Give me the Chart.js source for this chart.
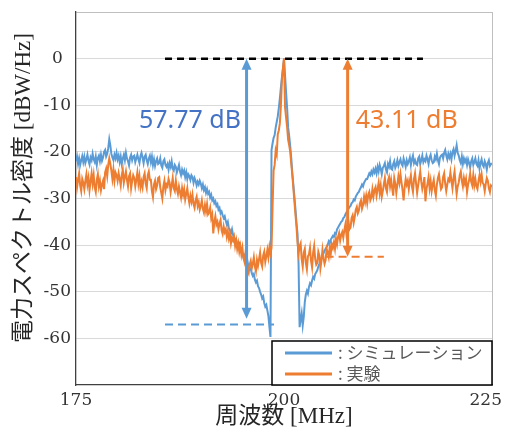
<!DOCTYPE html>
<html>
<head>
<meta charset="utf-8">
<script src="https://cdn.jsdelivr.net/npm/chart.js@4"></script>
<style>
  html, body { margin: 0; padding: 0; background: #fff; }
</style>
</head>
<body>
<canvas id="spectrum" width="505" height="430"></canvas>
<script>
// Sampling grid of the spectrum (MHz)
const freqStart = 175;
const freqStep = 0.125;

// Simulation PSD [dBW/Hz], 8 values per MHz, 175 .. 225 MHz
const simValues = [
  -22.0, -21.0, -22.6, -21.4, -22.8, -21.8, -20.9, -22.2,
  -21.0, -22.4, -21.6, -20.6, -21.9, -22.7, -21.2, -21.8,
  -20.4, -21.6, -22.2, -21.0, -22.8, -21.3, -20.8, -22.0,
  -20.6, -21.9, -21.2, -20.0, -19.6, -21.0, -20.4, -19.2,
  -17.3, -18.6, -20.4, -21.2, -21.8, -20.6, -21.4, -20.2,
  -21.6, -20.8, -22.2, -21.0, -22.6, -21.4, -20.6, -21.8,
  -20.2, -21.4, -22.0, -22.9, -21.2, -20.6, -21.8, -21.0,
  -20.8, -22.2, -21.4, -20.6, -21.6, -22.4, -20.9, -20.2,
  -21.2, -22.4, -21.0, -20.6, -21.8, -22.6, -21.4, -20.8,
  -22.2, -21.0, -22.8, -21.6, -23.0, -22.0, -21.4, -22.6,
  -22.4, -21.4, -22.9, -23.4, -22.0, -21.6, -22.8, -23.2,
  -22.6, -23.8, -22.4, -23.2, -22.0, -23.6, -24.0, -22.8,
  -23.2, -24.4, -23.6, -22.8, -24.2, -25.0, -23.8, -24.6,
  -24.0, -25.4, -24.4, -25.8, -24.8, -25.2, -26.0, -25.0,
  -25.4, -26.6, -25.6, -26.2, -27.2, -26.4, -27.0, -26.2,
  -26.8, -27.8, -27.0, -28.2, -27.6, -28.8, -28.0, -29.0,
  -28.6, -29.8, -29.2, -30.4, -30.0, -31.0, -30.6, -31.6,
  -31.2, -32.4, -32.0, -33.2, -32.8, -33.6, -34.2, -33.8,
  -34.8, -35.6, -35.0, -36.4, -36.8, -37.4, -36.6, -37.8,
  -38.4, -39.2, -38.8, -40.0, -40.4, -39.8, -41.0, -41.4,
  -41.8, -42.6, -42.2, -43.4, -44.0, -43.6, -44.8, -45.2,
  -45.0, -46.0, -46.6, -46.2, -47.4, -48.0, -47.6, -48.8,
  -49.2, -50.0, -50.6, -51.4, -51.0, -52.4, -53.2, -52.8,
  -54.0, -55.2, -57.6, -59.7, -19.6, -18.2, -17.0, -16.4,
  -14.8, -13.6, -12.4, -10.6, -8.6, -6.2, -4.0, -2.2,
  0.0, -3.6, -7.2, -10.6, -14.8, -16.6, -18.8, -21.4,
  -24.6, -27.0, -29.6, -32.2, -35.2, -37.6, -44.0, -57.6,
  -56.0, -54.6, -57.2, -55.4, -52.2, -50.6, -49.8, -50.4,
  -49.0, -48.2, -48.6, -47.6, -46.8, -47.2, -46.2, -45.8,
  -45.4, -44.6, -44.0, -43.2, -42.8, -42.0, -41.8, -41.2,
  -40.8, -40.4, -40.0, -39.2, -39.6, -38.8, -38.4, -38.0,
  -38.2, -37.4, -37.6, -36.6, -36.2, -35.8, -35.4, -35.0,
  -34.8, -34.2, -34.0, -33.4, -33.0, -32.6, -32.2, -31.8,
  -31.6, -31.0, -30.8, -30.2, -30.4, -29.6, -29.2, -28.8,
  -28.6, -28.0, -27.6, -27.0, -27.4, -26.6, -26.2, -25.8,
  -25.8, -25.2, -24.6, -25.0, -24.2, -24.8, -23.8, -24.4,
  -23.6, -24.6, -23.2, -24.2, -22.8, -23.6, -24.8, -23.4,
  -23.0, -22.4, -23.8, -24.4, -22.6, -23.2, -22.0, -23.6,
  -23.8, -22.6, -22.0, -23.4, -22.8, -21.8, -23.0, -22.2,
  -21.6, -22.6, -23.0, -21.4, -22.2, -23.2, -21.8, -22.6,
  -22.0, -21.2, -22.8, -21.6, -20.8, -22.4, -21.8, -22.6,
  -22.8, -21.4, -21.0, -22.6, -21.8, -20.8, -22.2, -21.6,
  -22.0, -20.8, -21.6, -22.6, -21.2, -20.6, -21.8, -22.4,
  -22.2, -21.0, -21.6, -20.4, -21.8, -22.6, -21.2, -20.8,
  -20.6, -21.4, -20.2, -19.6, -20.8, -21.6, -20.4, -21.2,
  -20.4, -21.6, -20.0, -19.4, -20.8, -19.8, -18.6, -20.2,
  -20.8, -21.8, -22.4, -21.0, -22.6, -21.4, -22.2, -21.6,
  -22.8, -21.6, -22.4, -23.4, -22.0, -21.4, -22.8, -22.2,
  -21.4, -22.6, -23.0, -21.8, -23.6, -22.4, -21.6, -22.8,
  -23.2, -22.0, -22.6, -23.8, -22.4, -21.8, -23.0, -22.6,
  -22.5
];

// Measured PSD [dBW/Hz], same grid
const expValues = [
  -25.4, -27.6, -26.0, -24.6, -27.2, -28.4, -25.8, -26.6,
  -28.0, -26.2, -24.8, -27.0, -25.6, -28.2, -26.4, -24.6,
  -26.8, -25.0, -27.6, -28.6, -26.0, -24.8, -27.4, -26.2,
  -28.2, -27.0, -26.2, -28.0, -24.4, -23.6, -25.2, -22.8,
  -21.4, -22.6, -24.0, -25.8, -23.8, -26.2, -24.4, -25.0,
  -26.2, -24.6, -25.8, -27.2, -25.0, -23.8, -26.6, -25.4,
  -24.2, -26.0, -27.4, -25.2, -24.6, -27.8, -26.2, -25.0,
  -25.6, -27.4, -26.0, -24.4, -26.8, -25.2, -27.6, -26.4,
  -27.6, -25.4, -24.6, -26.8, -27.8, -25.0, -24.2, -26.0,
  -26.0, -28.4, -29.7, -27.0, -26.2, -28.0, -27.2, -25.6,
  -25.4, -27.6, -28.8, -30.0, -27.4, -26.2, -28.2, -27.0,
  -27.4, -25.8, -26.6, -28.6, -27.2, -25.6, -27.8, -28.4,
  -26.2, -28.0, -29.0, -27.4, -28.6, -29.8, -27.8, -29.2,
  -28.0, -30.2, -29.0, -27.8, -29.7, -31.0, -29.4, -30.6,
  -29.2, -31.2, -32.0, -30.4, -29.6, -31.6, -30.8, -32.4,
  -31.6, -30.4, -32.2, -33.0, -31.4, -32.8, -31.2, -33.4,
  -33.0, -32.0, -34.2, -33.4, -37.5, -35.0, -33.8, -35.6,
  -35.0, -36.6, -35.4, -34.6, -36.8, -37.6, -36.0, -37.2,
  -36.6, -38.2, -37.0, -38.6, -37.6, -39.6, -38.4, -39.0,
  -38.2, -40.2, -39.0, -40.8, -39.6, -41.4, -40.2, -42.0,
  -40.6, -42.8, -43.6, -41.6, -43.0, -45.4, -46.0, -44.2,
  -43.4, -45.0, -44.0, -42.6, -44.6, -45.6, -43.2, -44.4,
  -43.0, -41.6, -43.8, -44.6, -42.2, -41.4, -43.6, -42.4,
  -41.0, -42.6, -40.4, -41.8, -40.6, -32.0, -24.0, -22.8,
  -19.7, -20.6, -16.2, -15.4, -13.9, -10.2, -4.6, -2.0,
  0.0, -10.4, -12.6, -14.7, -17.4, -18.6, -20.0, -22.6,
  -25.0, -27.8, -30.6, -33.4, -36.0, -39.4, -41.8, -40.2,
  -39.6, -43.0, -44.6, -41.6, -40.8, -43.8, -45.2, -42.4,
  -42.0, -40.6, -43.4, -44.8, -41.6, -40.2, -43.0, -44.2,
  -43.8, -41.4, -42.2, -45.0, -43.4, -41.0, -42.8, -44.0,
  -43.2, -40.8, -41.6, -42.6, -40.4, -41.8, -39.8, -40.6,
  -39.4, -40.8, -38.6, -39.8, -38.2, -37.4, -39.0, -37.8,
  -37.2, -38.4, -36.8, -35.6, -37.6, -36.2, -35.0, -36.6,
  -36.2, -34.2, -33.6, -35.2, -34.0, -32.4, -31.8, -33.2,
  -32.6, -31.0, -30.4, -32.2, -31.4, -29.6, -30.8, -29.4,
  -31.0, -29.2, -28.6, -30.4, -29.8, -28.0, -29.6, -28.2,
  -27.6, -29.4, -28.0, -26.6, -28.8, -27.2, -29.6, -28.4,
  -27.0, -25.6, -27.8, -28.6, -26.2, -25.4, -27.4, -26.0,
  -27.8, -29.4, -25.6, -26.8, -28.8, -27.0, -25.2, -26.6,
  -24.8, -26.6, -28.2, -30.4, -27.6, -25.8, -27.0, -26.2,
  -28.0, -26.2, -25.0, -27.4, -28.6, -25.8, -24.6, -26.8,
  -28.8, -27.2, -25.6, -24.2, -26.4, -28.0, -27.0, -25.4,
  -30.6, -28.0, -26.8, -25.4, -27.8, -26.2, -28.4, -27.0,
  -26.0, -28.2, -29.4, -27.0, -25.6, -24.8, -26.6, -28.0,
  -27.6, -25.4, -24.6, -26.8, -28.4, -27.0, -25.8, -26.2,
  -24.4, -26.2, -27.8, -25.6, -24.2, -26.8, -29.0, -27.4,
  -26.6, -25.0, -24.2, -26.2, -27.4, -25.6, -26.8, -25.8,
  -28.6, -27.0, -26.0, -24.6, -26.4, -27.2, -25.0, -27.2,
  -25.8, -27.4, -28.0, -26.2, -25.0, -26.4, -24.8, -26.6,
  -27.0, -28.4, -26.8, -25.6, -26.2, -27.8, -28.6, -27.2,
  -27.5
];

// Reference levels and dynamic-range markers
const peakLevel = 0;
const peakSpan = [185.7, 216.7];
const simFloor = -57;
const simFloorSpan = [185.7, 198.8];
const expFloor = -42.5;
const expFloorSpan = [205.0, 212.0];
const rangeArrows = [
  { freq: 195.5, from: 0, to: -55.8, color: '#5B9BD5' },
  { freq: 207.65, from: 0, to: -42.5, color: '#ED7D31' }
];
const rangeLabels = [
  { text: '57.77 dB', freq: 188.7, db: -14.9, color: '#4472C4' },
  { text: '43.11 dB', freq: 214.75, db: -14.9, color: '#ED7D31' }
];

const xTitle = '周波数 [MHz]';
const yTitle = '電力スペクトル密度 [dBW/Hz]';

const toPoints = vals => vals.map((v, i) => ({ x: freqStart + i * freqStep, y: v }));
const hLine = (span, level) => span.map(f => ({ x: f, y: level }));

const tickFont = { family: "'DejaVu Serif'", size: 17 };
const titleFont = "23px 'Liberation Serif', 'Noto Sans CJK JP'";

// arrows, dB labels and the boxed legend
const markupPlugin = {
  id: 'markup',
  afterDatasetsDraw(chart) {
    const { ctx, chartArea, scales: { x, y } } = chart;

    rangeArrows.forEach(a => {
      const px = x.getPixelForValue(a.freq);
      const top = y.getPixelForValue(a.from);
      const bottom = y.getPixelForValue(a.to);
      ctx.save();
      ctx.strokeStyle = a.color;
      ctx.fillStyle = a.color;
      ctx.lineWidth = 3;
      ctx.beginPath();
      ctx.moveTo(px, top + 8);
      ctx.lineTo(px, bottom - 8);
      ctx.stroke();
      ctx.beginPath();
      ctx.moveTo(px, top);
      ctx.lineTo(px - 5, top + 11);
      ctx.lineTo(px + 5, top + 11);
      ctx.closePath();
      ctx.fill();
      ctx.beginPath();
      ctx.moveTo(px, bottom);
      ctx.lineTo(px - 5, bottom - 11);
      ctx.lineTo(px + 5, bottom - 11);
      ctx.closePath();
      ctx.fill();
      ctx.restore();
    });

    ctx.save();
    ctx.font = "25px 'Noto Sans'";
    ctx.textAlign = 'center';
    ctx.textBaseline = 'alphabetic';
    rangeLabels.forEach(l => {
      ctx.fillStyle = l.color;
      ctx.fillText(l.text, x.getPixelForValue(l.freq), y.getPixelForValue(l.db));
    });
    ctx.restore();

    // legend box in the lower right corner of the plot
    const entries = chart.data.datasets.filter(ds => ds.label);
    const boxW = 220, boxH = 44;
    const bx = chartArea.right - boxW;
    const by = chartArea.bottom - boxH;
    ctx.save();
    ctx.fillStyle = '#fff';
    ctx.fillRect(bx, by, boxW, boxH);
    ctx.strokeStyle = '#000';
    ctx.lineWidth = 1.5;
    ctx.strokeRect(bx, by, boxW, boxH);
    ctx.font = "17px 'Noto Sans CJK JP'";
    ctx.textBaseline = 'middle';
    ctx.textAlign = 'left';
    entries.forEach((ds, i) => {
      const ly = by + 12 + i * 21;
      ctx.strokeStyle = ds.borderColor;
      ctx.lineWidth = 3;
      ctx.beginPath();
      ctx.moveTo(bx + 13, ly);
      ctx.lineTo(bx + 60, ly);
      ctx.stroke();
      ctx.fillStyle = '#595959';
      ctx.fillText(': ' + ds.label, bx + 66, ly);
    });
    ctx.restore();
  },
  afterDraw(chart) {
    const { ctx, chartArea, scales: { x } } = chart;
    ctx.save();
    // x tick labels, kept inside the canvas at the right end
    ctx.font = tickFont.size + 'px ' + tickFont.family;
    ctx.fillStyle = '#333';
    ctx.textAlign = 'center';
    ctx.textBaseline = 'alphabetic';
    x.ticks.forEach(t => {
      const label = String(t.value);
      const w = ctx.measureText(label).width;
      const px = Math.min(x.getPixelForValue(t.value), chart.width - 3 - w / 2);
      ctx.fillText(label, px, chartArea.bottom + 20);
    });

    ctx.font = titleFont;
    ctx.fillStyle = '#262626';
    ctx.textBaseline = 'middle';
    ctx.fillText(xTitle, (chartArea.left + chartArea.right) / 2, 417);
    ctx.translate(24, 188);
    ctx.rotate(-Math.PI / 2);
    ctx.fillText(yTitle, 0, 0);
    ctx.restore();
  }
};

new Chart(document.getElementById('spectrum'), {
  type: 'line',
  data: {
    datasets: [
      { label: 'シミュレーション', data: toPoints(simValues), borderColor: '#5B9BD5', borderWidth: 2, order: 2 },
      { label: '実験', data: toPoints(expValues), borderColor: '#ED7D31', borderWidth: 2, order: 1 },
      { data: hLine(peakSpan, peakLevel), borderColor: '#000', borderWidth: 2.5, borderDash: [7, 5], order: 0 },
      { data: hLine(simFloorSpan, simFloor), borderColor: '#5B9BD5', borderWidth: 2, borderDash: [8, 5], order: 0 },
      { data: hLine(expFloorSpan, expFloor), borderColor: '#ED7D31', borderWidth: 2, borderDash: [8, 5], order: 0 }
    ]
  },
  options: {
    responsive: false,
    animation: false,
    layout: { padding: { top: 12, right: 13, left: 0, bottom: 0 } },
    elements: { point: { radius: 0 }, line: { tension: 0 } },
    plugins: { legend: { display: false }, tooltip: { enabled: false } },
    scales: {
      x: {
        type: 'linear',
        min: 175,
        max: 225,
        ticks: { stepSize: 25, display: false },
        grid: {
          drawTicks: false,
          color: c => (c.tick && c.tick.value === 225) ? '#bfbfbf' : 'rgba(0,0,0,0)'
        },
        border: { color: '#404040', width: 1.3 },
        afterFit: s => { s.height = 45; s.paddingLeft = 0; s.paddingRight = 13; }
      },
      y: {
        type: 'linear',
        min: -70,
        max: 10,
        ticks: {
          stepSize: 10,
          padding: 5,
          crossAlign: 'center',
          font: tickFont,
          color: '#333',
          callback: v => (v > 0 || v < -60) ? '' : String(v)
        },
        grid: {
          drawTicks: false,
          color: c => {
            if (!c.tick) return 'rgba(0,0,0,0)';
            if (c.tick.value === 10) return '#bfbfbf';
            if (c.tick.value === -70) return 'rgba(0,0,0,0)';
            return '#d9d9d9';
          }
        },
        border: { color: '#404040', width: 1.3 },
        afterFit: s => { s.width = 76; s.paddingTop = 0; s.paddingBottom = 0; }
      }
    }
  },
  plugins: [markupPlugin]
});
</script>
</body>
</html>
